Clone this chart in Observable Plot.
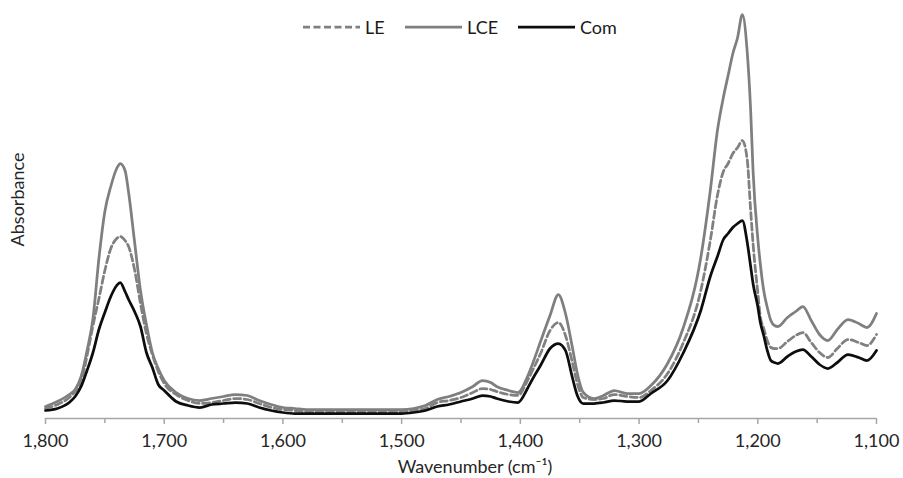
<!DOCTYPE html>
<html><head><meta charset="utf-8">
<script src="https://cdn.jsdelivr.net/npm/d3@7"></script>
<script src="https://cdn.jsdelivr.net/npm/@observablehq/plot@0.6"></script>
<style>
body{margin:0;background:#fff;font-family:Lato,"Open Sans",sans-serif;}
#wrap{position:relative;width:903px;height:478px;}
#legend{position:absolute;top:15px;left:0;width:903px;height:24px;}
.item{position:absolute;top:0;height:24px;display:flex;align-items:center;font-size:18px;color:#1a1a1a;}
.item svg{margin-right:5px;}
</style></head><body>
<div id="wrap"><div id="chart"></div><div id="legend"></div></div>
<script>
const wavenumber = [1800,1790,1780,1775,1770,1765,1760,1755,1750,1745,1740,1737,1733,1730,1725,1720,1715,1710,1705,1700,1690,1680,1670,1660,1650,1640,1630,1620,1610,1600,1590,1580,1560,1540,1520,1500,1490,1480,1470,1460,1450,1440,1432,1425,1420,1410,1402,1394,1389,1383,1375,1368,1362,1356,1352,1347,1338,1330,1321,1310,1300,1290,1276,1263,1248,1240,1234,1229,1225,1221,1217,1213,1209,1206,1204,1200,1198,1195,1192,1189,1186,1183,1175,1168,1162,1155,1148,1141,1133,1124,1115,1108,1100];
const LE = [0.010,0.014,0.021,0.027,0.036,0.063,0.093,0.120,0.148,0.170,0.180,0.182,0.178,0.172,0.149,0.115,0.085,0.064,0.047,0.035,0.024,0.018,0.015,0.016,0.018,0.020,0.019,0.015,0.011,0.009,0.008,0.007,0.007,0.007,0.007,0.007,0.008,0.010,0.016,0.018,0.021,0.026,0.030,0.029,0.027,0.024,0.023,0.038,0.050,0.065,0.088,0.096,0.083,0.055,0.035,0.021,0.019,0.020,0.024,0.022,0.021,0.028,0.045,0.075,0.128,0.178,0.223,0.247,0.255,0.265,0.271,0.278,0.260,0.208,0.175,0.126,0.103,0.090,0.078,0.071,0.070,0.070,0.077,0.083,0.086,0.076,0.066,0.061,0.070,0.079,0.076,0.073,0.084];
const LCE = [0.012,0.017,0.024,0.029,0.042,0.068,0.100,0.160,0.207,0.232,0.250,0.255,0.248,0.226,0.177,0.128,0.094,0.066,0.050,0.038,0.026,0.020,0.018,0.020,0.022,0.024,0.023,0.018,0.014,0.011,0.010,0.009,0.009,0.009,0.009,0.009,0.010,0.013,0.019,0.022,0.026,0.032,0.038,0.036,0.032,0.028,0.026,0.042,0.057,0.077,0.103,0.124,0.105,0.070,0.045,0.026,0.020,0.023,0.028,0.025,0.025,0.033,0.055,0.090,0.161,0.228,0.288,0.321,0.343,0.365,0.381,0.404,0.368,0.308,0.248,0.180,0.156,0.128,0.111,0.098,0.093,0.092,0.101,0.107,0.112,0.098,0.084,0.078,0.089,0.099,0.095,0.091,0.105];
const Com = [0.008,0.010,0.016,0.022,0.032,0.048,0.066,0.089,0.106,0.122,0.133,0.136,0.127,0.119,0.107,0.092,0.066,0.051,0.034,0.028,0.017,0.013,0.011,0.014,0.015,0.016,0.015,0.011,0.008,0.006,0.005,0.005,0.005,0.005,0.005,0.005,0.006,0.008,0.012,0.014,0.017,0.020,0.023,0.022,0.020,0.017,0.016,0.030,0.041,0.053,0.070,0.075,0.068,0.040,0.023,0.015,0.015,0.016,0.018,0.017,0.017,0.025,0.038,0.065,0.108,0.142,0.162,0.179,0.185,0.191,0.195,0.198,0.177,0.152,0.135,0.112,0.097,0.083,0.068,0.058,0.056,0.055,0.062,0.067,0.069,0.062,0.054,0.050,0.056,0.064,0.061,0.058,0.068];
const seriesNames = ["LE", "LCE", "Com"];
const xTicks = [1800,1700,1600,1500,1400,1300,1200,1100];
const xMinorTicks = [1750,1650,1550,1450,1350,1250,1150];
const xTitle = "Wavenumber (cm⁻¹)";
const yTitle = "Absorbance";

const styles = {
  LE:  {stroke: "#808080", dash: "7,3.5", width: 2.75},
  LCE: {stroke: "#7f7f7f", dash: null, width: 2.75},
  Com: {stroke: "#0d0d0d", dash: null, width: 2.75}
};
const valuesBySeries = {LE, LCE, Com};
const table = seriesNames.flatMap(s => wavenumber.map((w, i) => ({series: s, wn: w, abs: valuesBySeries[s][i]})));

const lineMarks = seriesNames.map(s => Plot.line(table.filter(d => d.series === s), {
  x: "wn", y: "abs", stroke: styles[s].stroke, strokeWidth: styles[s].width,
  strokeDasharray: styles[s].dash, curve: "monotone-x", strokeLinejoin: "round"
}));

const chart = Plot.plot({
  width: 903, height: 478,
  marginLeft: 45, marginRight: 27, marginTop: 10, marginBottom: 60,
  style: {fontFamily: "Lato, 'Open Sans', sans-serif", background: "white", color: "#262626"},
  x: {domain: [1800, 1100]},
  y: {domain: [0, 0.408], axis: null},
  marks: [
    Plot.ruleY([0], {stroke: "#a6a6a6", strokeWidth: 1.5}),
    Plot.axisX({ticks: xTicks, tickSize: 6, tickFormat: () => "", color: "#a6a6a6", strokeWidth: 1.5, label: null}),
    Plot.axisX({ticks: xMinorTicks, tickSize: 5, tickFormat: () => "", color: "#a6a6a6", strokeWidth: 1.5, label: null}),
    Plot.axisX({ticks: xTicks, tickSize: 0, tickPadding: 16, tickFormat: d3.format(","), fontSize: 18, color: "#262626", label: null}),
    Plot.text([xTitle], {frameAnchor: "bottom", dy: 49, dx: 14, lineAnchor: "middle", fontSize: 18, fill: "#262626"}),
    Plot.text([yTitle], {frameAnchor: "left", textAnchor: "middle", dx: -27, dy: -15, rotate: -90, lineAnchor: "middle", fontSize: 18, fill: "#262626"}),
    ...lineMarks
  ]
});
document.getElementById("chart").append(chart);

// legend
const legendPos = {LE: 303, LCE: 405, Com: 518};
const legend = document.getElementById("legend");
for (const s of seriesNames) {
  const st = styles[s];
  const div = document.createElement("div");
  div.className = "item";
  div.style.left = legendPos[s] + "px";
  div.innerHTML = `<svg width="57" height="24"><line x1="0" x2="57" y1="12" y2="12" stroke="${st.stroke}" stroke-width="${st.width}" ${st.dash ? `stroke-dasharray="${st.dash}"` : ""}/></svg><span>${s}</span>`;
  legend.append(div);
}
</script>
</body></html>
